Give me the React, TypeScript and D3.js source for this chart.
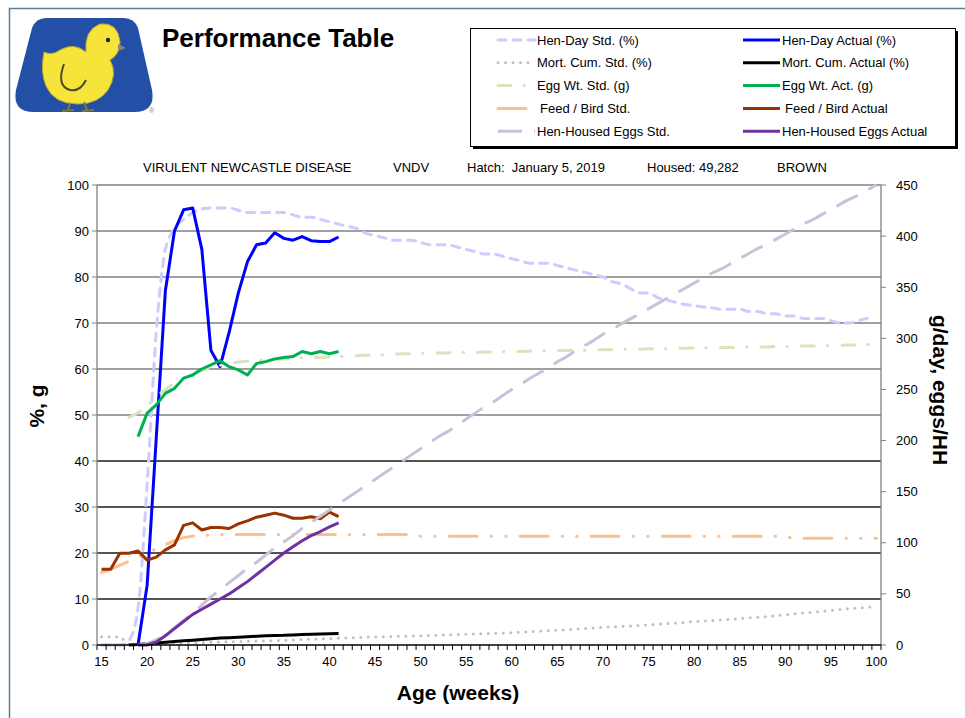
import * as d3 from 'd3';

// categories (age in weeks)
const weeks = d3.range(15, 101);
const xLabelWeeks = d3.range(15, 101, 5);
const yLeftTicks = d3.range(0, 101, 10);
const yRightTicks = d3.range(0, 451, 50);

// standards & actuals, each starting at its own week
const henDayStdStart = 15;
const henDayStd = [
  0, 0, 0, 1, 8, 35, 68, 86, 90.5, 92.5,
  94, 94.8, 95, 95, 95, 94.5, 94, 94, 94, 94,
  94, 93.5, 93, 93, 92.5, 92, 91.5, 91, 90.5, 89.5,
  89, 88.5, 88, 88, 88, 87.5, 87, 87, 87, 86.5,
  86, 85.5, 85, 85, 84.5, 84, 83.5, 83, 83, 83,
  82.5, 82, 81.5, 81, 80.5, 80, 79, 78.5, 77.5, 76.5,
  76.5, 75.5, 75, 74.5, 74, 73.8, 73.5, 73.3, 73, 73,
  73, 72.5, 72.5, 72, 72, 71.5, 71.5, 71, 71, 71,
  70.5, 70, 70, 70.5, 71,
];
const henDayActStart = 19;
const henDayAct = [
  0, 13, 45, 77, 90, 94.6, 95, 86, 64, 60.5, 68, 76.5, 83.3, 87, 87.4, 89.6,
  88.4, 88, 88.8, 87.9, 87.7, 87.7, 88.7,
];
const mortStdStart = 15;
const mortStd = [
  1.8, 1.8, 1.8, 0.1, 0.2, 0.25, 0.3, 0.35, 0.4, 0.45,
  0.5, 0.55, 0.6, 0.65, 0.7, 0.75, 0.8, 0.85, 0.9, 0.95,
  1.0, 1.1, 1.2, 1.3, 1.35, 1.4, 1.5, 1.55, 1.6, 1.7,
  1.75, 1.8, 1.85, 1.9, 1.95, 2.0, 2.1, 2.15, 2.2, 2.25,
  2.35, 2.4, 2.5, 2.55, 2.6, 2.7, 2.8, 2.9, 3.0, 3.1,
  3.2, 3.3, 3.45, 3.6, 3.7, 3.85, 3.95, 4.05, 4.15, 4.25,
  4.4, 4.5, 4.65, 4.8, 4.95, 5.1, 5.2, 5.3, 5.45, 5.6,
  5.75, 5.9, 6.05, 6.2, 6.4, 6.6, 6.8, 6.95, 7.1, 7.3,
  7.5, 7.7, 7.9, 8.05, 8.2, 8.4,
];
const mortActStart = 18;
const mortAct = [
  0, 0.1, 0.3, 0.45, 0.6, 0.75, 0.9, 1.05, 1.2, 1.35, 1.5, 1.6, 1.7, 1.8,
  1.9, 2.0, 2.05, 2.1, 2.2, 2.3, 2.35, 2.4, 2.45, 2.5,
];
const eggWtStdStart = 18;
const eggWtStd = [
  49.5, 50.5, 52, 54, 55.5, 57, 58, 59, 59.7, 60.3,
  60.8, 61.2, 61.5, 61.7, 61.9, 62.0, 62.1, 62.2, 62.3, 62.4,
  62.5, 62.5, 62.6, 62.7, 62.8, 62.9, 63.0, 63.0, 63.1, 63.2,
  63.3, 63.3, 63.4, 63.4, 63.5, 63.5, 63.6, 63.6, 63.6, 63.7,
  63.7, 63.8, 63.8, 63.8, 63.9, 63.9, 64.0, 64.0, 64.0, 64.1,
  64.1, 64.1, 64.2, 64.2, 64.3, 64.3, 64.3, 64.4, 64.4, 64.4,
  64.5, 64.5, 64.6, 64.6, 64.6, 64.7, 64.7, 64.7, 64.8, 64.8,
  64.8, 64.9, 64.9, 64.9, 65.0, 65.0, 65.0, 65.1, 65.1, 65.2,
  65.2, 65.3, 65.3,
];
const eggWtActStart = 19;
const eggWtAct = [
  45.3, 50.4, 52.2, 54.7, 55.8, 58, 58.7, 60, 60.9, 61.8, 60.5, 59.8, 58.7,
  61.2, 61.6, 62.2, 62.5, 62.7, 63.8, 63.3, 63.8, 63.3, 63.8,
];
// g/day (right axis)
const feedStdStart = 15;
const feedStd = [
  71, 74, 78, 82, 86, 90, 94, 98, 102, 105,
  106.5, 107, 107.5, 108, 108, 108, 108, 108, 108, 108,
  108, 108, 108, 108, 108, 108, 108, 108, 108, 108,
  108, 108, 108, 108, 108, 106.5, 106.5, 106.5, 106.5, 106.5,
  106.5, 106.5, 106.5, 106.5, 106.5, 106.5, 106.5, 106.5, 106.5, 106.5,
  106.5, 106.5, 106.5, 106.5, 106.5, 106.5, 106.5, 106.5, 106.5, 106.5,
  106.5, 106.5, 106.5, 106.5, 106.5, 106.5, 106.5, 106.5, 106.5, 106.5,
  106.5, 106.5, 106.5, 106.5, 106.5, 106, 104.5, 104.5, 104.5, 104.5,
  104.5, 104.5, 104.5, 104.5, 104.5, 104.5,
];
const feedActStart = 15;
const feedAct = [
  74, 74, 89.7, 89.7, 92, 83, 86, 93, 98, 117, 119.5, 112.5, 115, 115, 114,
  118.5, 121.5, 125, 127, 129, 127, 124, 124, 125.5, 123.5, 130, 125.5,
];
// eggs per hen housed (right axis)
const hhStdStart = 15;
const hhStd = [
  0, 0, 0, 0, 0,
  1.5, 5, 10, 17, 24, 31, 39, 47, 54, 61,
  68, 75, 81, 88, 95, 101, 107, 114, 120, 126,
  132, 138, 144, 150, 156, 162, 168, 174, 180, 186,
  192, 198, 204, 209, 215, 221, 227, 233, 238, 244,
  250, 255, 261, 266, 271, 277, 282, 288, 293, 298,
  304, 309, 314, 319, 324, 329, 334, 339, 344, 349,
  354, 359, 364, 368, 373, 378, 383, 388, 392, 397,
  402, 407, 412, 416, 421, 426, 431, 436, 440, 445,
  450,
];
const hhActStart = 19;
const hhAct = [
  0, 0, 3, 9, 16, 23, 30, 35, 40, 45, 50, 56, 62, 69, 76, 83, 90, 96, 102,
  107, 111, 115.5, 119.5,
];

const headerTexts = [
  { t: 'VIRULENT NEWCASTLE DISEASE', x: 143 },
  { t: 'VNDV', x: 393 },
  { t: 'Hatch:  January 5, 2019', x: 467 },
  { t: 'Housed: 49,282', x: 647 },
  { t: 'BROWN', x: 777 },
];

const FONT = 'Liberation Sans, Arial, Helvetica, sans-serif';

type Series = {
  name: string;
  start: number;
  values: number[];
  axis: 'L' | 'R';
  color: string;
  dash?: string;
  cap?: 'round' | 'butt';
  smooth?: boolean;
};

const series: Series[] = [
  { name: 'Hen-Day Std. (%)', start: henDayStdStart, values: henDayStd, axis: 'L', color: '#ccccff', dash: '8,7', cap: 'round', smooth: true },
  { name: 'Hen-Day Actual (%)', start: henDayActStart, values: henDayAct, axis: 'L', color: '#0000ff' },
  { name: 'Mort. Cum. Std. (%)', start: mortStdStart, values: mortStd, axis: 'L', color: '#c0c0c0', dash: '0,7.5', cap: 'round', smooth: true },
  { name: 'Mort. Cum. Actual (%)', start: mortActStart, values: mortAct, axis: 'L', color: '#000000' },
  { name: 'Egg Wt. Std. (g)', start: eggWtStdStart, values: eggWtStd, axis: 'L', color: '#d7e4bd', dash: '13,13,0.5,14', cap: 'round', smooth: true },
  { name: 'Egg Wt. Act. (g)', start: eggWtActStart, values: eggWtAct, axis: 'L', color: '#00b050' },
  { name: 'Feed / Bird Std.', start: feedStdStart, values: feedStd, axis: 'R', color: '#fac090', dash: '28,14,0.5,14,0.5,14', cap: 'round', smooth: true },
  { name: 'Feed / Bird Actual', start: feedActStart, values: feedAct, axis: 'R', color: '#993300' },
  { name: 'Hen-Housed Eggs Std.', start: hhStdStart, values: hhStd, axis: 'R', color: '#ccc1da', dash: '24,12', cap: 'butt', smooth: true },
  { name: 'Hen-Housed Eggs Actual', start: hhActStart, values: hhAct, axis: 'R', color: '#7030a0' },
];

const plot = { left: 97, right: 881, top: 185, bottom: 645 };

export default function App() {
  const x = d3
    .scaleBand<number>()
    .domain(weeks)
    .range([plot.left, plot.right])
    .padding(0);
  const cx = (w: number) => (x(w) ?? 0) + x.bandwidth() / 2;
  const yL = d3.scaleLinear().domain([0, 100]).range([plot.bottom, plot.top]);
  const yR = d3.scaleLinear().domain([0, 450]).range([plot.bottom, plot.top]);

  const pathFor = (s: Series) => {
    const y = s.axis === 'L' ? yL : yR;
    const line = d3
      .line<number>()
      .x((_, i) => cx(s.start + i))
      .y((d) => y(d))
      .curve(s.smooth ? d3.curveMonotoneX : d3.curveLinear);
    return line(s.values) ?? '';
  };

  const boundaries = d3.range(0, weeks.length + 1).map((i) => plot.left + i * x.bandwidth());

  return (
    <div style={{ position: 'absolute', left: 0, top: 0 }}>
      <svg width={965} height={718} style={{ display: 'block', background: '#fff' }} fontFamily={FONT}>
        {/* frame */}
        <rect x={9.5} y={8.5} width={970} height={720} fill="none" stroke="#5b7ba0" strokeWidth={1.5} />

        {/* logo */}
        <g>
          <path
            d="M46 18 L124 18 Q134 18 138 28 L152 90 Q156 112 134 112 L34 112 Q12 112 16 90 L32 28 Q36 18 46 18 Z"
            fill="#2350a6"
          />
          <g fill="#f6e43a" stroke="#b8a830" strokeWidth={1}>
            <path d="M44 52 Q52 56 60 50 Q74 42 86 52 Q84 30 100 24 Q118 22 120 42 Q120 54 110 60 Q118 74 108 90 Q98 104 78 104 Q54 104 46 86 Q40 72 44 52 Z" />
          </g>
          <path d="M118 44 L126 48 L118 51 Z" fill="#8a8a6a" />
          <circle cx={108} cy={40} r={2.2} fill="#222" />
          <path d="M64 64 Q56 86 70 90 Q80 92 86 80" fill="none" stroke="#4a4a2a" strokeWidth={2} />
          <path d="M70 103 L68 110 M62 111 L74 110 M84 102 L87 110 M82 111 L94 110" stroke="#7a7a40" strokeWidth={2} fill="none" />
          <text x={149} y={113} fontSize={7} fill="#888">®</text>
        </g>

        {/* title */}
        <text x={162} y={47} fontSize={26} fontWeight="bold" fill="#000">
          Performance Table
        </text>

        {/* legend */}
        <rect x={473} y={31} width={485} height={118} fill="#000" />
        <rect x={470.5} y={28.5} width={485} height={118} fill="#fff" stroke="#000" strokeWidth={1} />
        {series.map((s, i) => {
          const col = i % 2;
          const row = Math.floor(i / 2);
          const ly = 40 + row * 22.8;
          const x0 = col === 0 ? 498 : 743;
          const tx = col === 0 ? 537 : 782;
          const extra = s.name.startsWith('Feed') ? 3 : 0;
          return (
            <g key={s.name}>
              <line
                x1={x0}
                x2={x0 + 37}
                y1={ly}
                y2={ly}
                stroke={s.color}
                strokeWidth={3}
                strokeDasharray={s.dash}
                strokeLinecap={s.cap ?? 'butt'}
              />
              <text x={tx + extra} y={ly} dy="0.35em" fontSize={13} fill="#000">
                {s.name}
              </text>
            </g>
          );
        })}

        {/* header line */}
        {headerTexts.map((h) => (
          <text key={h.t} x={h.x} y={172} fontSize={13} fill="#000" style={{ whiteSpace: 'pre' }}>
            {h.t}
          </text>
        ))}

        {/* gridlines */}
        {yLeftTicks.slice(1).map((t) => (
          <line
            key={t}
            x1={plot.left}
            x2={plot.right}
            y1={yL(t)}
            y2={yL(t)}
            stroke={t >= 50 ? '#808080' : '#1a1a1a'}
            strokeWidth={1.3}
          />
        ))}

        {/* left axis */}
        <line x1={plot.left} x2={plot.left} y1={plot.top} y2={plot.bottom} stroke="#808080" strokeWidth={1.3} />
        {yLeftTicks.map((t) => (
          <g key={t}>
            <line x1={plot.left - 5} x2={plot.left} y1={yL(t)} y2={yL(t)} stroke="#808080" />
            <text x={89} y={yL(t)} dy="0.35em" textAnchor="end" fontSize={13} fill="#000">
              {t}
            </text>
          </g>
        ))}

        {/* right axis */}
        <line x1={plot.right} x2={plot.right} y1={plot.top} y2={plot.bottom} stroke="#808080" strokeWidth={1.3} />
        {yRightTicks.map((t) => (
          <g key={t}>
            <line x1={plot.right} x2={plot.right + 5} y1={yR(t)} y2={yR(t)} stroke="#808080" />
            <text x={896} y={yR(t)} dy="0.35em" fontSize={13} fill="#000">
              {t}
            </text>
          </g>
        ))}

        {/* series */}
        {series.map((s) => (
          <path
            key={s.name}
            d={pathFor(s)}
            fill="none"
            stroke={s.color}
            strokeWidth={3}
            strokeDasharray={s.dash}
            strokeLinecap={s.cap ?? 'butt'}
            strokeLinejoin="round"
          />
        ))}

        {/* x axis */}
        <line x1={plot.left} x2={plot.right} y1={plot.bottom} y2={plot.bottom} stroke="#000" strokeWidth={1.3} />
        {boundaries.map((bx, i) => (
          <line key={i} x1={bx} x2={bx} y1={plot.bottom} y2={plot.bottom + 5} stroke="#000" />
        ))}
        {xLabelWeeks.map((w) => (
          <text key={w} x={cx(w)} y={666} textAnchor="middle" fontSize={13} fill="#000">
            {w}
          </text>
        ))}

        {/* axis titles */}
        <text x={458} y={700} textAnchor="middle" fontSize={21} fontWeight="bold" fill="#000">
          Age (weeks)
        </text>
        <text
          transform="translate(44,406) rotate(-90)"
          textAnchor="middle"
          fontSize={21}
          fontWeight="bold"
          fill="#000"
        >
          %, g
        </text>
        <text
          transform="translate(933,390) rotate(90)"
          textAnchor="middle"
          fontSize={21}
          fontWeight="bold"
          fill="#000"
        >
          g/day, eggs/HH
        </text>
      </svg>
    </div>
  );
}
